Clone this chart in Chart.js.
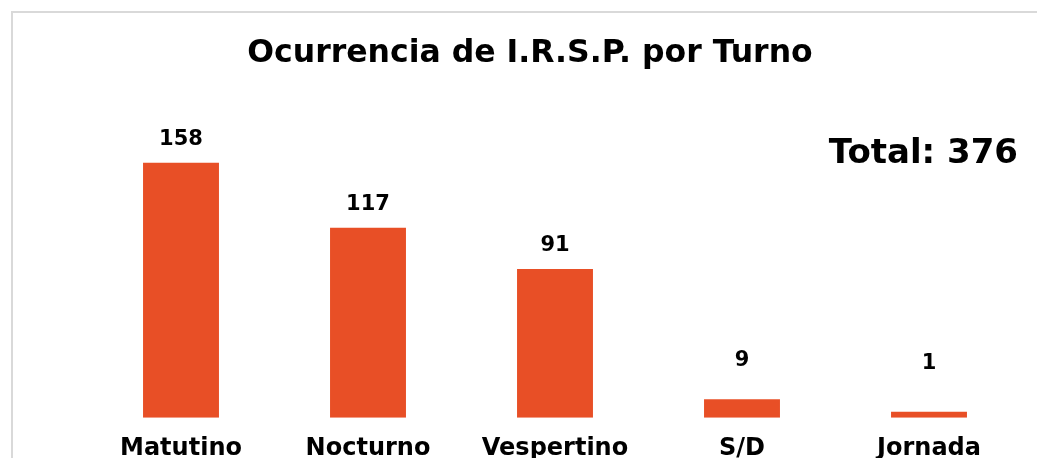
<!DOCTYPE html>
<html>
<head>
<meta charset="utf-8">
<script src="https://cdn.jsdelivr.net/npm/chart.js@4"></script>
<style>
  html, body { margin: 0; padding: 0; background: #fff; overflow: hidden; }
  body { width: 1037px; height: 458px; position: relative; }
  .frame { position: absolute; left: 11px; top: 11px; width: 1100px; height: 500px; border: 2px solid #d9d9d9; box-sizing: border-box; }
  .wrap { position: absolute; left: 0; top: 0; width: 1037px; height: 490px; }
</style>
</head>
<body>
<div class="frame"></div>
<div class="wrap"><canvas id="turnos"></canvas></div>
<script>
const turnos = ['Matutino', 'Nocturno', 'Vespertino', 'S/D', 'Jornada'];
const ocurrencias = [158, 117, 91, 9, 1];
const titulo = 'Ocurrencia de I.R.S.P. por Turno';

const total = ocurrencias.reduce((a, b) => a + b, 0);
const FONT = '"DejaVu Sans", sans-serif';

// extra lift for the labels of the short bars (as in the original)
const labelLift = [0, 0, 0, 16, 25];

const textPlugin = {
    id: 'textPlugin',
    afterDatasetsDraw(chart) {
        const ctx = chart.ctx;
        ctx.save();
        ctx.fillStyle = '#000';
        ctx.textAlign = 'center';
        ctx.textBaseline = 'middle';

        // title
        ctx.font = 'bold 31.5px ' + FONT;
        ctx.fillText(titulo, 530, 54);

        // value labels
        ctx.font = 'bold 21px ' + FONT;
        chart.getDatasetMeta(0).data.forEach((bar, i) => {
            ctx.fillText(String(ocurrencias[i]), bar.x, bar.y - 23 - labelLift[i]);
        });

        // total
        ctx.font = 'bold 34px ' + FONT;
        ctx.textAlign = 'right';
        ctx.fillText('Total: ' + total, 1018, 154);
        ctx.restore();
    }
};

new Chart(document.getElementById('turnos').getContext('2d'), {
    type: 'bar',
    data: {
        labels: turnos,
        datasets: [{
            data: ocurrencias,
            backgroundColor: '#E84F26',
            borderWidth: 0,
            base: -2.7,
            barPercentage: 1,
            categoryPercentage: 0.406
        }]
    },
    options: {
        responsive: true,
        maintainAspectRatio: false,
        animation: false,
        layout: { padding: { top: 100, left: 87.5, right: 14.5, bottom: 9.5 } },
        plugins: {
            legend: { display: false },
            title: { display: false },
            tooltip: { enabled: false }
        },
        scales: {
            x: {
                grid: { display: false, drawTicks: false },
                border: { display: false },
                ticks: {
                    color: '#000',
                    padding: 17,
                    font: { family: FONT, size: 24, weight: 'bold' }
                }
            },
            y: {
                display: false,
                min: -2.7,
                max: 197.5
            }
        }
    },
    plugins: [textPlugin]
});
</script>
</body>
</html>
